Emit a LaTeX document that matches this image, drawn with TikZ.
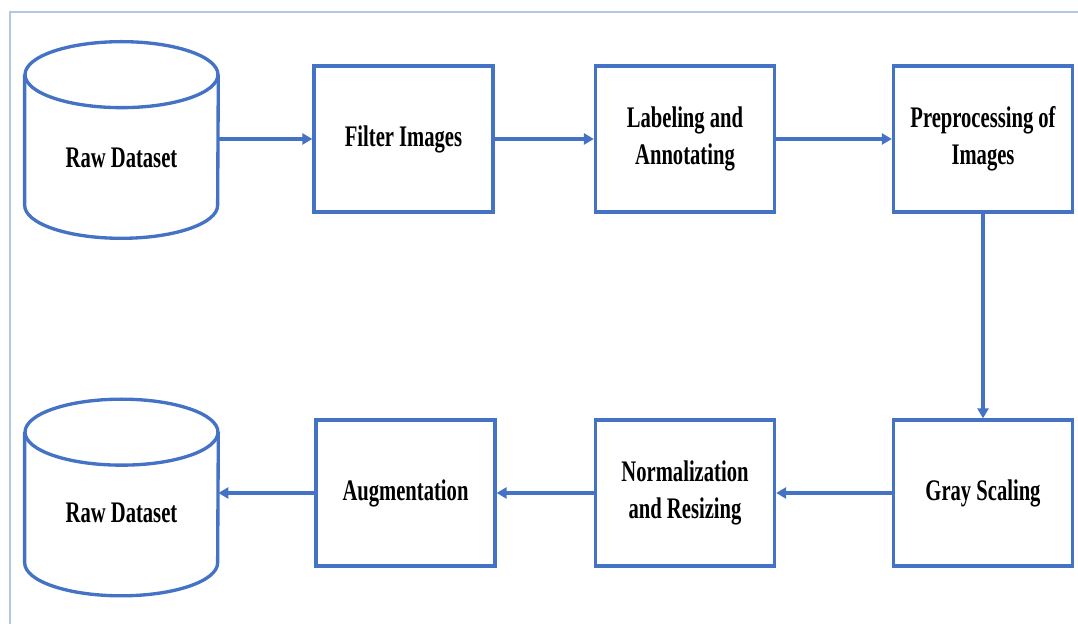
\documentclass[tikz,border=0pt]{standalone}
\usepackage{fontspec}
\setmainfont{Liberation Serif}
\newfontfamily\boxfont[FakeStretch=0.69]{Liberation Serif}
\usepackage{tikz}
\usetikzlibrary{positioning, calc, arrows.meta}
\definecolor{myblue}{HTML}{4472C4}
\definecolor{myframe}{HTML}{B4C7E7}
\tikzset{
	stepnode/.style={
			rectangle,
			draw=myblue,
			line width=1.9pt,
			fill=white,
			minimum width=3.58cm,
			minimum height=2.92cm,
			align=center,
			inner sep=0pt,
			font=\boxfont\bfseries\fontsize{17}{21}\selectfont
		},
	dbnode/.style={
			rectangle,
			draw=none,
			minimum width=3.86cm,
			minimum height=3.92cm,
			inner sep=0pt
		},
	dbline/.style={
			draw=myblue,
			line width=1.9pt
		},
	textnode/.style={
			inner sep=0pt,
			font=\boxfont\bfseries\fontsize{17}{21}\selectfont
		},
	flow/.style={
			draw=myblue,
			line width=1.9pt,
			-{Triangle[length=0.2cm,width=0.22cm]}
		}
}

\begin{document}
\begin{tikzpicture}[x=0.02cm, y=0.02cm]
				\useasboundingbox (0,0) rectangle (1078,624);
				\draw[myframe, line width=0.8pt] (10,0) -- (10,612) -- (1078,612);

				% top row
				\node[stepnode] (filter) at (403.5,485) {Filter Images};
				\node[stepnode] (label) at (685,485) {Labeling and\\Annotating};
				\node[stepnode] (prep) at (983,485) {Preprocessing of\\Images};
				\node[dbnode] (raw) at (121.5,484) {};

				% bottom row
				\node[stepnode] (gray) at (983,131) {Gray Scaling};
				\node[stepnode] (norm) at (685,131) {Normalization\\and Resizing};
				\node[stepnode] (aug) at (405.5,131) {Augmentation};
				\node[dbnode] (out) at (121.5,126.5) {};

				% cylinders
				\draw[dbline] (raw.north west) ++(0,-33) -- ($(raw.south west)+(0,33)$)
					arc[start angle=180, end angle=360, x radius=1.93cm, y radius=0.66cm]
					-- ($(raw.north east)+(0,-33)$);
				\draw[dbline] ($(raw.north)+(0,-33)$) ellipse[x radius=1.93cm, y radius=0.66cm];
				\node[textnode] (rawtext) at (121.5,466) {Raw Dataset};

				\draw[dbline] (out.north west) ++(0,-33) -- ($(out.south west)+(0,33)$)
					arc[start angle=180, end angle=360, x radius=1.93cm, y radius=0.66cm]
					-- ($(out.north east)+(0,-33)$);
				\draw[dbline] ($(out.north)+(0,-33)$) ellipse[x radius=1.93cm, y radius=0.66cm];
				\node[textnode] (outtext) at (121.5,111) {Raw Dataset};

				% arrows
				\draw[flow] (raw.east |- filter.west) -- (filter.west);
				\draw[flow] (filter) -- (label);
				\draw[flow] (label) -- (prep);
				\draw[flow] (prep) -- (gray);
				\draw[flow] (gray) -- (norm);
				\draw[flow] (norm) -- (aug);
				\draw[flow] (aug.west) -- (aug.west -| out.east);
			\end{tikzpicture}
\end{document}
